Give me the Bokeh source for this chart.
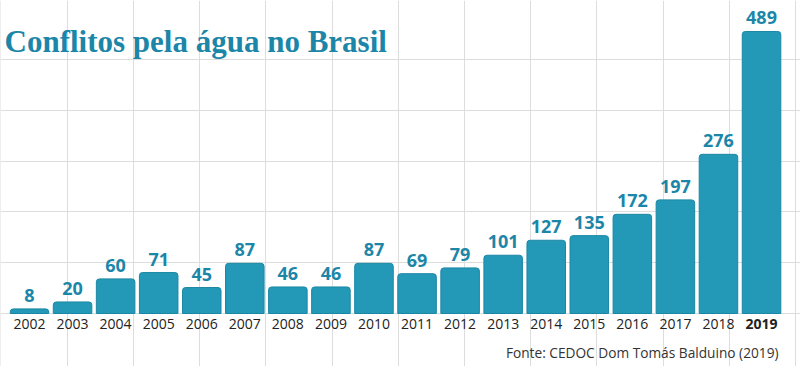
from bokeh.plotting import figure
from bokeh.models import ColumnDataSource, LabelSet, Label, FixedTicker, Range1d
from bokeh.core.properties import value
from bokeh.embed import file_html
from bokeh.resources import INLINE

# ---- data ----
years = [2002, 2003, 2004, 2005, 2006, 2007, 2008, 2009, 2010,
         2011, 2012, 2013, 2014, 2015, 2016, 2017, 2018, 2019]
conflicts = [8, 20, 60, 71, 45, 87, 46, 46, 87, 69, 79, 101, 127, 135, 172, 197, 276, 489]
value_labels = [str(v) for v in conflicts]
title_text = "Conflitos pela água no Brasil"
source_text = "Fonte: CEDOC Dom Tomás Balduino (2019)"
highlight_year = 2019

# decorative background grid (data units)
hgrid_values = [0, 88, 176, 264, 352, 440]
vgrid_values = [2001.338 + 1.5374 * k for k in range(13)]

TEAL = "#2399b7"
TEAL_EDGE = "#1b87a4"
TEXT_TEAL = "#1c86a8"
GRID = "#dddddd"
SANS = "'Open Sans'"

p = figure(width=800, height=366, output_backend="svg", toolbar_location=None,
           x_range=Range1d(2001.3265, 2019.905), y_range=Range1d(-91.9, 542.7),
           min_border_left=0, min_border_right=0, min_border_top=0, min_border_bottom=0)
p.outline_line_color = None
p.background_fill_color = "white"
p.border_fill_color = "white"

# grid
p.xgrid.ticker = FixedTicker(ticks=vgrid_values)
p.xgrid.bounds = (0, 440)
p.xgrid.grid_line_color = GRID
p.xgrid.grid_line_width = 1
p.ygrid.ticker = FixedTicker(ticks=hgrid_values)
p.ygrid.bounds = (2001.0, 2019.79)
p.ygrid.grid_line_color = GRID
p.ygrid.grid_line_width = 1

src = ColumnDataSource(dict(year=years, value=conflicts, label=value_labels))

p.vbar(x="year", top="value", width=0.895, bottom=0, source=src,
       fill_color=TEAL, line_color=TEAL_EDGE, line_width=1,
       border_radius=(3, 3, 0, 0))

labels = LabelSet(x="year", y="value", text="label", source=src,
                  y_offset=7, text_align="center", text_baseline="alphabetic",
                  text_font=value("Open Sans"), text_font_style="bold",
                  text_font_size="18px", text_color=TEXT_TEAL)
p.add_layout(labels)

# axes
p.yaxis.visible = False
xa = p.xaxis[0]
xa.fixed_location = 0
xa.ticker = FixedTicker(ticks=years)
xa.major_label_overrides = {highlight_year: ""}
xa.axis_line_color = None
xa.major_tick_line_color = None
xa.minor_tick_line_color = None
xa.major_tick_out = 0
xa.major_tick_in = 0
xa.major_label_standoff = 6
xa.major_label_text_font = SANS
xa.major_label_text_font_size = "14px"
xa.major_label_text_color = "#222222"

p.add_layout(Label(x=highlight_year, y=0, y_offset=-6, text=str(highlight_year),
                   text_align="center", text_baseline="top",
                   text_font=SANS, text_font_style="bold",
                   text_font_size="14px", text_color="#222222"))

# title
p.add_layout(Label(x=2001.3265, x_offset=4, y=471.5, text=title_text,
                   text_align="left", text_baseline="alphabetic",
                   text_font="'Liberation Serif'", text_font_style="bold",
                   text_font_size="31px", text_color=TEXT_TEAL))

# source
p.add_layout(Label(x=2019.394, y=-67.1, text=source_text,
                   text_align="right", text_baseline="middle",
                   text_font=SANS, text_font_size="13.7px",
                   text_color="#333333"))

open("out.html", "w").write(file_html(p, INLINE))
